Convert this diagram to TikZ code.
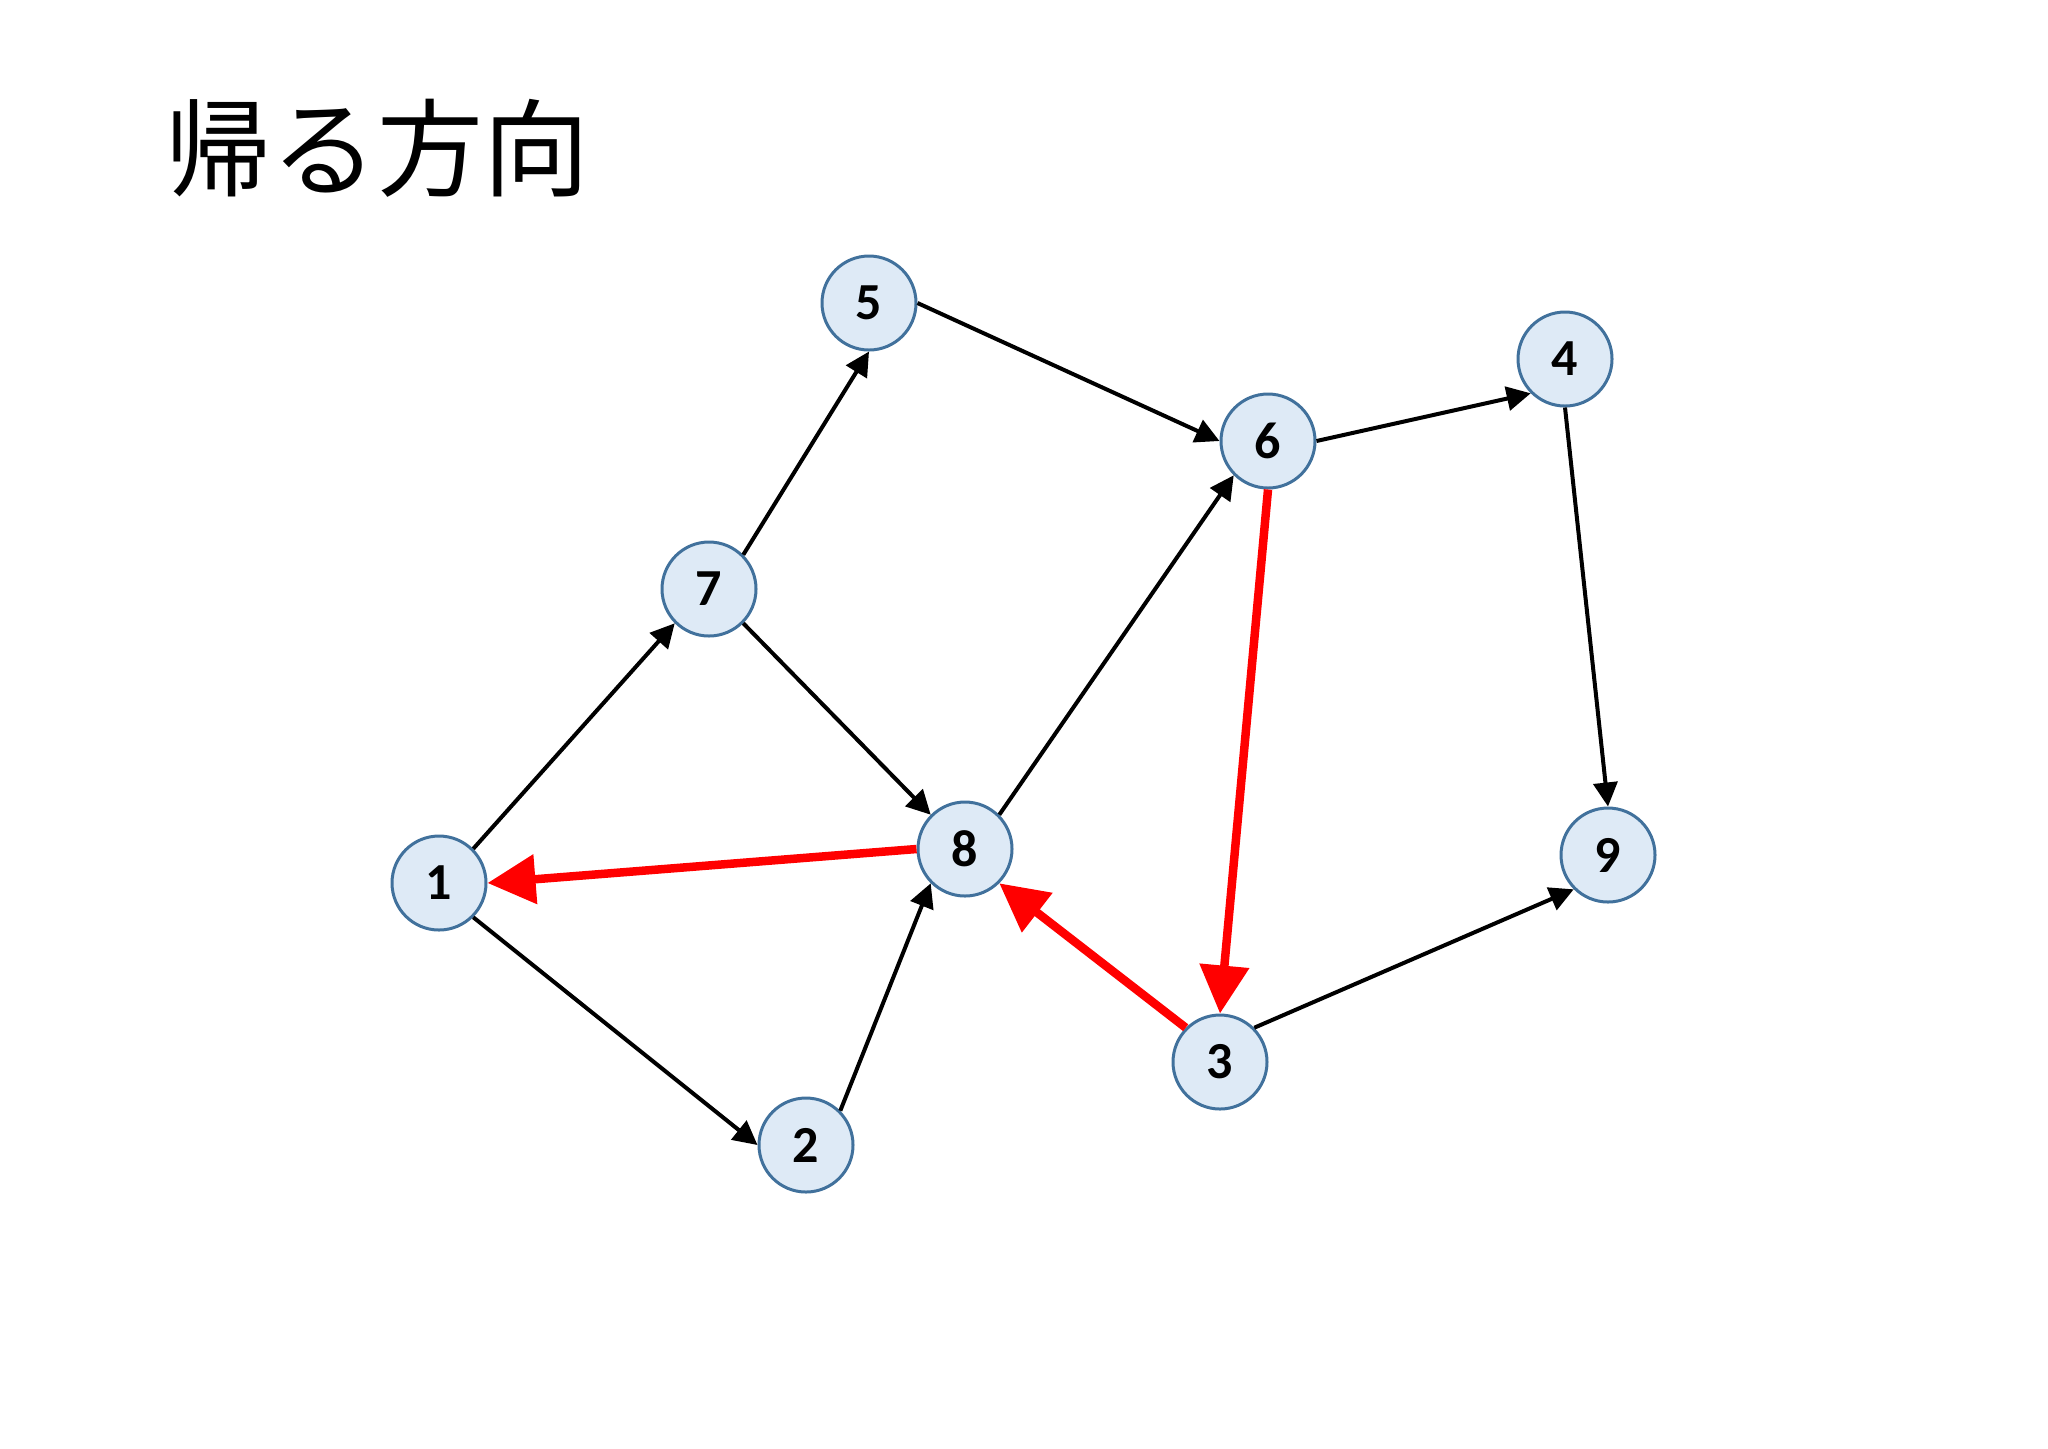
\documentclass[tikz,border=0pt]{standalone}
\usepackage{fontspec}
\setmainfont{Carlito}
\newfontfamily\cjk{Noto Sans CJK JP}
\usetikzlibrary{arrows.meta}
\definecolor{vfill}{RGB}{222,234,246}
\definecolor{vline}{RGB}{65,113,156}

\begin{document}
\begin{tikzpicture}[x=0.5pt,y=-0.5pt,
  vertex/.style={circle,draw=vline,fill=vfill,line width=1.5pt,
    minimum size=47pt,inner sep=0pt,
    font=\fontsize{26}{26}\selectfont\bfseries},
  link/.style={-{Triangle[length=12pt,width=12pt]},line width=2pt,black},
  back/.style={-{Triangle[length=24pt,width=24pt]},line width=4.25pt,red}]
\useasboundingbox (0,0) rectangle (2048,1448);

\node[anchor=base west,inner sep=0pt,font=\cjk\fontsize{53}{53}\selectfont]
  (title) at (165,188) {帰る方向};

\node[vertex] (v1) at (439,883) {1};
\node[vertex] (v2) at (806,1145) {2};
\node[vertex] (v3) at (1220,1062) {3};
\node[vertex] (v4) at (1565,359) {4};
\node[vertex] (v5) at (869,303) {5};
\node[vertex] (v6) at (1268,441) {6};
\node[vertex] (v7) at (709,589) {7};
\node[vertex] (v8) at (965,849) {8};
\node[vertex] (v9) at (1608,855) {9};

\path (v1.north east) edge[link] (v7.south west);
\path (v1.south east) edge[link] (v2.west);
\path (v7.north east) edge[link] (v5.south);
\path (v7.south east) edge[link] (v8.north west);
\path (v5.east) edge[link] (v6.west);
\path (v6.east) edge[link] (v4.south west);
\path (v4.south) edge[link] (v9.north);
\path (v8.north east) edge[link] (v6.south west);
\path (v2.north east) edge[link] (v8.south west);
\path (v3.north east) edge[link] (v9.south west);

% way back
\draw[back] (v8.west) -- (v1.east);
\draw[back] (v6.south) -- (v3.north);
\draw[back] (v3.north west) -- (v8.south east);

\end{tikzpicture}
\end{document}
